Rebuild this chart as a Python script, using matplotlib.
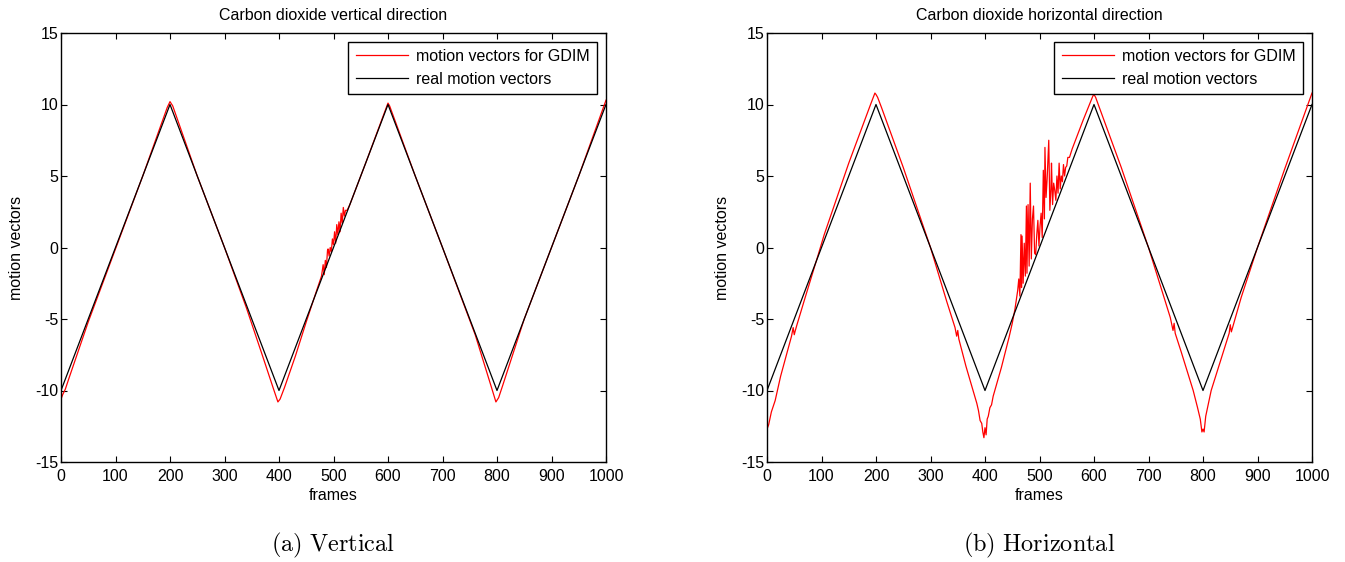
import matplotlib
matplotlib.use('Agg')
import matplotlib.pyplot as plt

plt.rcParams['font.family'] = ['Liberation Sans', 'DejaVu Sans']
plt.rcParams['mathtext.fontset'] = 'cm'
plt.rcParams['axes.unicode_minus'] = False

# real motion vectors (triangle wave vertices)
real_x = [0, 200, 400, 600, 800, 1000]
real_y = [-10, 10, -10, 10, -10, 10]

# estimated motion vectors, vertical direction
vert_x = [0, 3, 8, 15, 50, 100, 150, 195, 200, 205, 250, 300, 340, 370, 390,
          398, 402, 410, 430, 450, 470, 478, 481, 483, 485, 487, 489, 490, 492,
          494, 496, 498, 500, 502, 504, 506, 508, 510, 512, 514, 516, 518, 520,
          522, 525, 530, 560, 598, 600, 603, 650, 700, 760, 790, 798, 803, 810,
          850, 900, 950, 1000]
vert_y = [-10.6, -10.3, -9.9, -9.1, -5.2, -0.1, 5.0, 9.8, 10.2, 9.9, 5.0, 0.0,
          -4.2, -7.6, -9.9, -10.8, -10.6, -9.8, -7.6, -5.2, -2.9, -2.0, -1.2,
          -1.9, -0.9, -1.4, -0.2, -0.1, -0.6, 0.0, -0.3, 0.6, 0.2, 1.1, 0.3, 1.6,
          0.9, 1.8, 1.1, 2.4, 1.7, 2.8, 2.2, 2.6, 2.6, 3.0, 6.0, 9.9, 10.1, 9.9,
          5.0, 0.0, -6.1, -9.8, -10.8, -10.5, -9.7, -5.0, 0.0, 5.0, 10.3]

# estimated motion vectors, horizontal direction
horiz_x = [0, 3, 8, 15, 25, 35, 45, 48, 50, 52, 55, 70, 94, 105, 150, 190, 198,
           200, 203, 210, 250, 300, 330, 345, 348, 350, 352, 365, 385, 388, 391,
           394, 396, 398, 400, 402, 404, 406, 409, 412, 415, 430, 444, 450, 455,
           460, 462, 464, 466, 467, 468, 470, 472, 474, 476, 477, 479, 481, 483,
           485, 487, 489, 491, 493, 495, 497, 499, 501, 503, 505, 507, 509, 510,
           512, 514, 517, 519, 521, 522, 524, 526, 528, 530, 532, 534, 536, 538,
           540, 542, 544, 546, 548, 550, 552, 555, 560, 580, 598, 600, 603, 650,
           700, 740, 745, 747, 749, 760, 782, 790, 795, 798, 800, 802, 805, 815,
           848, 850, 852, 870, 900, 950, 1000]
horiz_y = [-12.7, -12.4, -11.5, -10.7, -9.0, -7.6, -6.2, -5.6, -6.1, -5.8, -5.4,
           -3.5, -0.5, 0.9, 5.9, 10.0, 10.8, 10.7, 10.5, 9.8, 5.6, 0.0, -3.8,
           -5.6, -6.2, -5.8, -6.4, -8.3, -10.9, -11.4, -12.1, -12.3, -12.9,
           -13.3, -12.6, -13.1, -12.0, -11.8, -11.2, -11.0, -10.4, -8.4, -6.3,
           -5.3, -4.3, -3.0, -2.2, -3.4, 0.9, -2.8, 0.8, -2.5, 0.3, -2.0, 2.9,
           -1.8, 3.0, -1.3, 4.5, -0.8, 2.0, 2.9, -0.4, -0.5, 0.9, 1.9, 0.1, 1.5,
           2.4, 0.7, 5.4, 2.0, 7.0, 3.5, 4.8, 7.5, 2.6, 4.1, 5.9, 3.0, 4.5, 4.0,
           3.3, 5.0, 3.8, 5.9, 4.1, 5.0, 4.6, 5.8, 5.0, 5.6, 5.7, 6.3, 6.3, 6.9,
           8.9, 10.6, 10.7, 10.5, 5.6, 0.0, -4.9, -5.8, -5.3, -6.0, -7.3, -10.0,
           -11.2, -12.0, -12.9, -12.7, -12.9, -11.8, -10.0, -6.0, -5.4, -5.9,
           -3.5, 0.0, 5.5, 10.8]

xticks = list(range(0, 1001, 100))
yticks = [-15, -10, -5, 0, 5, 10, 15]

panels = [
    ('Carbon dioxide vertical direction', vert_x, vert_y, r'$\mathrm{(a)\ Vertical}$'),
    ('Carbon dioxide horizontal direction', horiz_x, horiz_y, r'$\mathrm{(b)\ Horizontal}$'),
]

FS = 11.5

fig = plt.figure(figsize=(13.45, 5.62), dpi=100)
lefts = [61 / 1345, 767 / 1345]

for left, (title, ex, ey, caption) in zip(lefts, panels):
    ax = fig.add_axes([left, 100 / 562, 545 / 1345, 429 / 562])
    ax.plot(ex, ey, color='red', linewidth=0.9, label='motion vectors for GDIM')
    ax.plot(real_x, real_y, color='black', linewidth=0.9, label='real motion vectors')
    ax.set_xlim(0, 1000)
    ax.set_ylim(-15, 15)
    ax.set_xticks(xticks)
    ax.set_yticks(yticks)
    ax.tick_params(direction='in', top=True, right=True, length=4, width=0.8,
                   labelsize=FS)
    ax.tick_params(axis='x', pad=5)
    ax.tick_params(axis='y', pad=2)
    for sp in ax.spines.values():
        sp.set_linewidth(1.0)
    ax.set_title(title, fontsize=FS, pad=9)
    ax.set_xlabel('frames', fontsize=FS, labelpad=3)
    ax.set_ylabel('motion vectors', fontsize=FS, labelpad=8)
    leg = ax.legend(loc='upper right', fontsize=FS, fancybox=False, framealpha=1,
                    edgecolor='black', handlelength=3.3, borderaxespad=0.55,
                    labelspacing=0.5, handletextpad=0.5, borderpad=0.45)
    leg.get_frame().set_linewidth(1.0)
    fig.text(left + 545 / 1345 / 2, 17 / 562, caption, ha='center', va='center',
             fontsize=17.5)

fig.savefig('out.png', dpi=100, facecolor='white')
